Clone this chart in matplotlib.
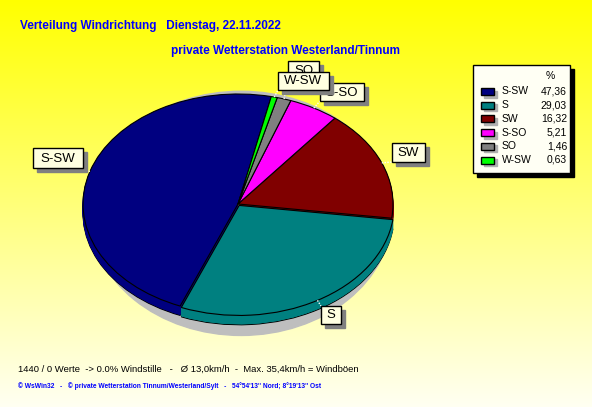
import numpy as np
import matplotlib
matplotlib.use('Agg')
import matplotlib.pyplot as plt
from matplotlib.patches import Rectangle, Ellipse

plt.rcParams['font.family'] = ['Liberation Sans', 'DejaVu Sans']

# Daten
labels = ['S-SW', 'S', 'SW', 'S-SO', 'SO', 'W-SW']
values = [47.36, 29.03, 16.32, 5.21, 1.46, 0.63]
value_texts = ['47,36', '29,03', '16,32', '5,21', '1,46', '0,63']
colors = ['#000080', '#008080', '#800000', '#FF00FF', '#808080', '#00FF00']
explode = [0, 0.015, 0, 0, 0, 0]

title1 = 'Verteilung Windrichtung   Dienstag, 22.11.2022'
title2 = 'private Wetterstation Westerland/Tinnum'
info = '1440 / 0 Werte  -> 0.0% Windstille   -   Ø 13,0km/h  -  Max. 35,4km/h = Windböen'
footer = "© WsWin32   -   © private Wetterstation Tinnum/Westerland/Sylt   -   54°54'13'' Nord; 8°19'13'' Ost"

W, H = 592, 407
fig = plt.figure(figsize=(W / 100, H / 100), dpi=100)

# Hintergrund (Verlauf gelb -> hell)
bg = fig.add_axes([0, 0, 1, 1], zorder=0)
g = np.linspace(0, 1, H)
img = np.ones((H, 1, 3))
img[:, 0, 2] = g * 0.95
bg.imshow(img, extent=(0, W, H, 0), aspect='auto')
bg.set_xlim(0, W)
bg.set_ylim(H, 0)
bg.axis('off')

# Torten-Achse (elliptisch)
cx, cy, rx, ry = 238, 204, 155, 110
x0, x1, y0, y1 = -1.2, 1.2, -1.4, 1.2
left = cx + x0 * rx
width = (x1 - x0) * rx
top = cy - y1 * ry
height = (y1 - y0) * ry
pa = fig.add_axes([left / W, (H - top - height) / H, width / W, height / H], zorder=1)
pa.patch.set_alpha(0)

pa.add_patch(Ellipse((0.02, -0.085), 1.95, 2.22, color='#BEBEBE', zorder=0))

depth = 0.085
n = 12
pa.pie(values, colors=colors, startangle=77.6, counterclock=True, explode=explode,
       center=(0, -depth), wedgeprops=dict(edgecolor='black', linewidth=0.8))
for k in range(n - 1, 0, -1):
    side, _ = pa.pie(values, colors=colors, startangle=77.6, counterclock=True, explode=explode,
                     center=(0, -depth * k / n), wedgeprops=dict(linewidth=0.6))
    for s in side:
        s.set_edgecolor(s.get_facecolor())
wedges, _ = pa.pie(values, colors=colors, startangle=77.6, counterclock=True, explode=explode,
                   wedgeprops=dict(edgecolor='black', linewidth=0.8))
pa.set_aspect('auto')
pa.set_xlim(x0, x1)
pa.set_ylim(y0, y1)
pa.axis('off')

# Overlay in Pixelkoordinaten
ov = fig.add_axes([0, 0, 1, 1], zorder=2)
ov.patch.set_alpha(0)
ov.set_xlim(0, W)
ov.set_ylim(H, 0)
ov.axis('off')

ov.text(20, 29, title1, color='#0000FF', fontsize=8.5, fontweight='bold')
ov.text(171, 54, title2, color='#0000FF', fontsize=8.5, fontweight='bold')
ov.text(18, 372, info, color='black', fontsize=6.8)
ov.text(18, 388, footer, color='#0000FF', fontsize=4.8, fontweight='bold')

# Beschriftungskaesten (x, y, breite, hoehe)
boxes = {'SO': (288, 61, 31, 18), 'S-SO': (320, 83, 44, 18), 'W-SW': (278, 72, 51, 18),
         'S-SW': (33, 148, 50, 20), 'SW': (392, 143, 33, 19), 'S': (321, 306, 20, 18)}
order = ['S-SW', 'SW', 'S', 'SO', 'S-SO', 'W-SW']
z = 5
for lab in order:
    i = labels.index(lab)
    w = wedges[i]
    th = np.deg2rad((w.theta1 + w.theta2) / 2)
    px, py = pa.transData.transform((w.center[0] + np.cos(th), w.center[1] + np.sin(th)))
    py = H - py
    bx, by, bw, bh = boxes[lab]
    ex = min(max(px, bx), bx + bw)
    ey = min(max(py, by), by + bh)
    ov.plot([px, ex], [py, ey], color='white', lw=1, ls=(0, (1, 1)), zorder=z)
    ov.add_patch(Rectangle((bx + 4, by + 4), bw, bh, color='#808080', zorder=z + 1))
    ov.add_patch(Rectangle((bx, by), bw, bh, facecolor='#FFFFE1', edgecolor='black',
                           lw=1, zorder=z + 2))
    ov.text(bx + bw / 2, by + bh / 2 + 0.5, lab, ha='center', va='center', fontsize=9.5,
            zorder=z + 3)
    z += 4

# Legende
ov.add_patch(Rectangle((477, 69), 97, 108, color='black', zorder=40))
ov.add_patch(Rectangle((473, 65), 97, 108, facecolor='#FFFFF4', edgecolor='black', lw=1, zorder=41))
ov.text(550, 76, '%', ha='center', va='center', fontsize=7.5, zorder=42)
for i, lab in enumerate(labels):
    yy = 91.5 + i * 13.7
    ov.add_patch(Rectangle((484, yy - 1), 13, 7, color='#B0B0B0', zorder=42))
    ov.add_patch(Rectangle((481, yy - 3.5), 13, 7, facecolor=colors[i], edgecolor='black',
                           lw=1, zorder=43))
    ov.text(502, yy, lab, va='center', fontsize=7.5, zorder=44)
    ov.text(567, yy, value_texts[i], va='center', ha='right', fontsize=7.5, zorder=44)

fig.savefig('out.png', dpi=100)
